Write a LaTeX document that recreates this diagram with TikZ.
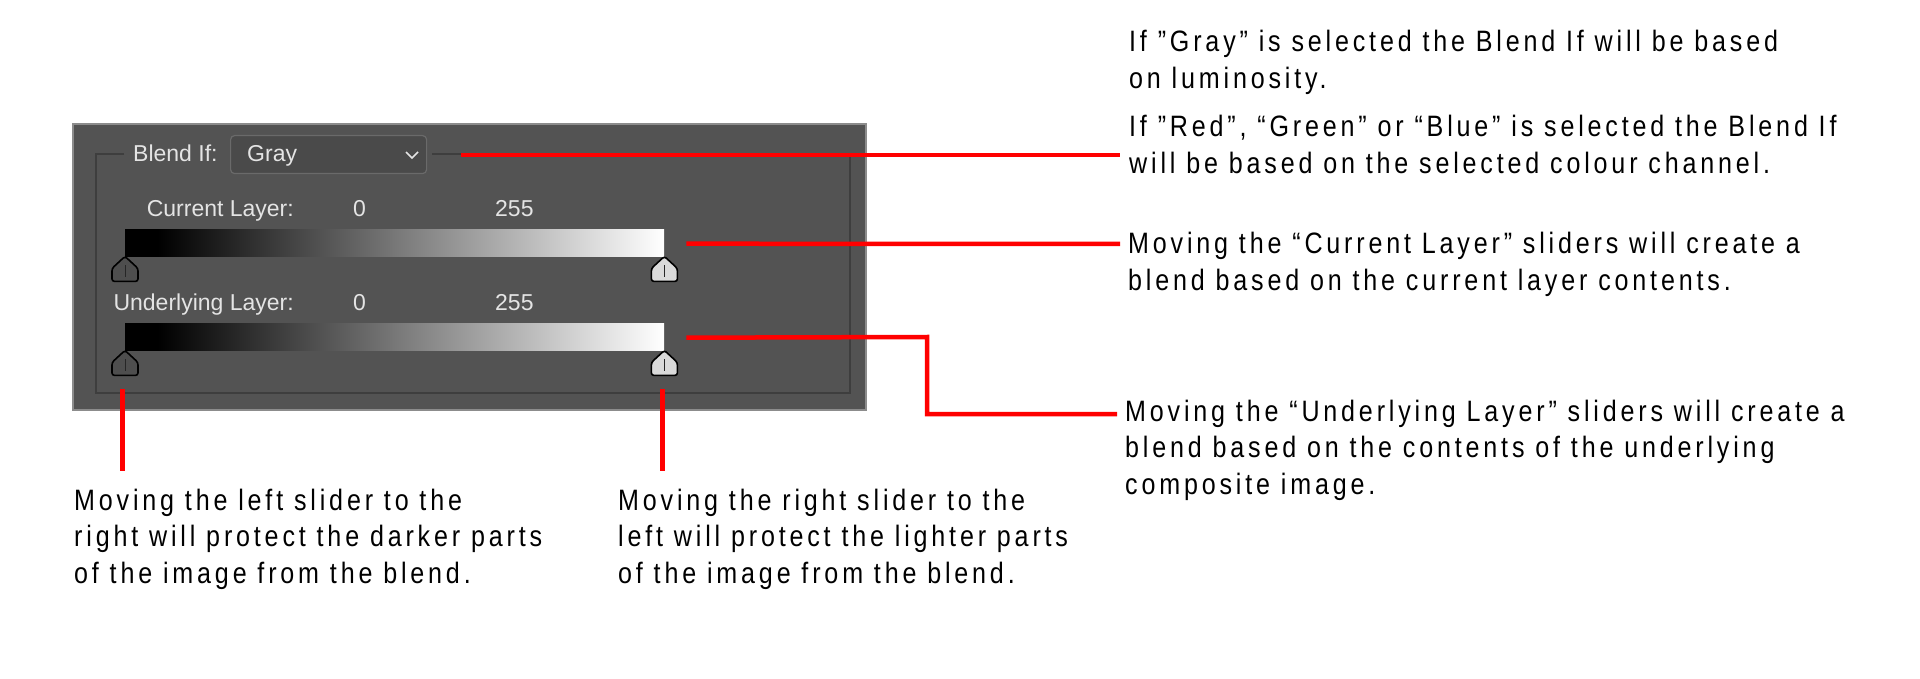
\documentclass[tikz,border=0pt]{standalone}
\usepackage{fontspec}
\setmainfont{Liberation Sans}
\newfontfamily\annfont[FakeStretch=0.85,LetterSpace=13]{Liberation Sans}
\newfontfamily\uifont{Liberation Sans}
\usetikzlibrary{calc}
\definecolor{panelbg}{HTML}{535353}
\definecolor{panelrim}{HTML}{8C8C8C}
\definecolor{framecol}{HTML}{3E3E3E}
\definecolor{ddfill}{HTML}{4A4A4A}
\definecolor{ddborder}{HTML}{6A6A6A}
\definecolor{uitext}{HTML}{E4E4E4}
\definecolor{sldark}{HTML}{4E4E4E}
\definecolor{sllight}{HTML}{DADADA}
\definecolor{redline}{HTML}{FF0000}
\pgfdeclarehorizontalshading{bargrad}{100bp}{color(0bp)=(black); color(25bp)=(black); color(28bp)=(black); color(75bp)=(white); color(100bp)=(white)}
\newcommand\mylines[1]{\vtop{\baselineskip=36.5pt\lineskiplimit=-10pt\halign{##\hfil\cr#1\crcr}}}
\tikzset{
  ann/.style={anchor=base west, inner sep=0pt, font=\annfont\fontsize{29.5}{36.5}\selectfont, text=black},
  ui/.style={inner sep=0pt, font=\uifont\fontsize{23}{27}\selectfont, text=uitext},
  redcon/.style={draw=redline, line width=4.5pt},
  barbox/.style={anchor=north west, inner sep=0pt, minimum width=539pt, minimum height=27pt, shading=bargrad, draw=none},
  pics/slider/.style={code={
    \draw[black, line width=1.6pt, fill=#1, rounded corners=2.5pt]
      (0,0) -- (13,12) -- (13,25) -- (-13,25) -- (-13,12) -- cycle;
    \draw[black!85, line width=1pt] (0,9) -- (0,21);
  }}
}
\begin{document}
\begin{tikzpicture}[x=1pt,y=-1pt]
\useasboundingbox[fill=white] (0,0) rectangle (1920,679);

% panel
\fill[panelbg] (73,124) rectangle (866,410);
\draw[panelrim, line width=1.2pt] (73,124) rectangle (866,410);
% group frame
\draw[framecol, line width=1.5pt] (124,154) -- (96,154) -- (96,393) -- (850,393) -- (850,154) -- (432,154);

% blend if row
\node[ui, anchor=base west] (blendif) at (133,162) {Blend If:};
\node[draw=ddborder, fill=ddfill, rounded corners=4pt, line width=1.2pt, minimum width=196pt, minimum height=38pt, inner sep=0pt, anchor=north west] (dd) at (230,135) {};
\node[ui, anchor=base west] (gray) at (247,162) {Gray};
\draw[uitext, line width=1.6pt] (406,152) -- (412,158) -- (418,152);

% current layer
\node[ui, anchor=base east] (curlab) at (294,217) {Current Layer:};
\node[ui, anchor=base west] (cur0) at (353,217) {0};
\node[ui, anchor=base west] (cur255) at (495,217) {255};
\node[barbox] (bar1) at (125,229) {};
\pic at (bar1.south west) {slider=sldark};
\pic at (bar1.south east) {slider=sllight};

% underlying layer
\node[ui, anchor=base east] (undlab) at (294,310) {Underlying Layer:};
\node[ui, anchor=base west] (und0) at (353,310) {0};
\node[ui, anchor=base west] (und255) at (495,310) {255};
\node[barbox] (bar2) at (125,323) {};
\pic at (bar2.south west) {slider=sldark};
\pic at (bar2.south east) {slider=sllight};

% annotation texts
\node[ann] (t1) at (1129,52) {\mylines{If ”Gray” is selected the Blend If will be based\cr on luminosity.}};
\node[ann] (t2) at (1129,137) {\mylines{If ”Red”, “Green” or “Blue” is selected the Blend If\cr will be based on the selected colour channel.}};
\node[ann] (t3) at (1128,254) {\mylines{Moving the “Current Layer” sliders will create a\cr blend based on the current layer contents.}};
\node[ann] (t4) at (1125,421) {\mylines{Moving the “Underlying Layer” sliders will create a\cr blend based on the contents of the underlying\cr composite image.}};
\node[ann] (t5) at (74,510) {\mylines{Moving the left slider to the\cr right will protect the darker parts\cr of the image from the blend.}};
\node[ann] (t6) at (618,510) {\mylines{Moving the right slider to the\cr left will protect the lighter parts\cr of the image from the blend.}};

% connectors
\coordinate (c1a) at (461,155);
\coordinate (c1b) at (1120,155);
\draw[redcon] (c1a) -- (c1b);
\coordinate (c2a) at ($(bar1.east)+(22,1)$);
\coordinate (c2b) at (1120,244);
\draw[redcon] (c2a) -- (c2b);
\coordinate (c3a) at ($(bar2.east)+(22,1)$);
\coordinate (c3b) at (1117,414);
\draw[redcon] (c3a) -- (927,337) -- (927,414) -- (c3b);
\coordinate (c4a) at (122.5,389);
\coordinate (c4b) at (122.5,471);
\draw[redcon] (c4a) -- (c4b);
\coordinate (c5a) at (662.5,389);
\coordinate (c5b) at (662.5,471);
\draw[redcon] (c5a) -- (c5b);
\end{tikzpicture}
\end{document}
